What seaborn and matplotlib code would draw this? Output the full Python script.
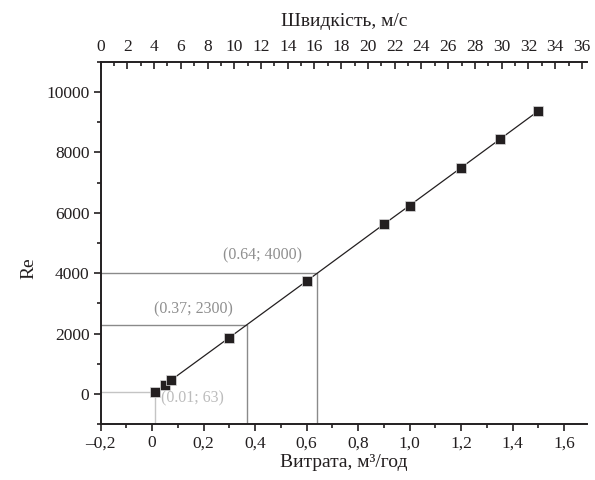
import matplotlib
matplotlib.use("Agg")
import matplotlib.pyplot as plt
import matplotlib.ticker as mticker
import pandas as pd
import seaborn as sns

# Data
flow = [0.01, 0.05, 0.075, 0.30, 0.60, 0.90, 1.00, 1.20, 1.35, 1.50]
re_num = [63, 310, 470, 1870, 3740, 5620, 6240, 7490, 8430, 9370]

# marked points (flow, Re) and their labels
marks_q = [0.64, 0.37, 0.01]
marks_re = [4000, 2300, 63]
mark_text = ["(0.64; 4000)", "(0.37; 2300)", "(0.01; 63)"]
mark_color = ["#8a8a8a", "#8a8a8a", "#c4c4c4"]
text_color = ["#8f8f8f", "#8f8f8f", "#bcbcbc"]

df = pd.DataFrame({"Q": flow, "Re": re_num})

sns.set_theme(style="ticks")
plt.rcParams["font.family"] = ["Liberation Serif", "DejaVu Serif"]
ink = "#231f20"

fig = plt.figure(figsize=(5.95, 4.8), dpi=100)
ax = fig.add_axes([0.169, 0.116, 0.818, 0.7555])

xmin, ymin = -0.2, -1000
# reference lines
for q, r, c in zip(marks_q, marks_re, mark_color):
    ax.plot([xmin, q], [r, r], color=c, lw=1.0, zorder=1)
    ax.plot([q, q], [ymin, r], color=c, lw=1.0, zorder=1)

# fitted line through points (starting at third point)
sns.lineplot(data=df.iloc[2:], x="Q", y="Re", color=ink, lw=0.9, ax=ax,
             zorder=2, sort=False)
sns.scatterplot(data=df, x="Q", y="Re", marker="s", s=48, color=ink,
                edgecolor="#dddddd", linewidth=0.5, ax=ax, zorder=3)

ax.text(0.43, 4580, mark_text[0], color=text_color[0], fontsize=11.5,
        ha="center", va="center")
ax.text(0.162, 2810, mark_text[1], color=text_color[1], fontsize=11.5,
        ha="center", va="center")
ax.text(0.036, -130, mark_text[2], color=text_color[2], fontsize=11.5,
        ha="left", va="center")

ax.set_xlim(xmin, 1.69)
ax.set_ylim(ymin, 11000)
ax.xaxis.set_major_locator(mticker.MultipleLocator(0.2))
ax.xaxis.set_minor_locator(mticker.MultipleLocator(0.1))
ax.yaxis.set_major_locator(mticker.FixedLocator([0, 2000, 4000, 6000, 8000, 10000]))
ax.yaxis.set_minor_locator(mticker.MultipleLocator(1000))


def comma_fmt(v, pos):
    if abs(v) < 1e-9:
        return "0"
    s = f"{abs(v):.1f}".replace(".", ",")
    return ("\u2013" + s) if v < 0 else s


ax.xaxis.set_major_formatter(mticker.FuncFormatter(comma_fmt))
ax.yaxis.set_major_formatter(mticker.FuncFormatter(lambda v, p: f"{int(v)}"))

ax.tick_params(axis="both", which="major", direction="out", length=5,
               width=1.2, color=ink, labelcolor=ink, labelsize=12.5, pad=3)
ax.tick_params(axis="both", which="minor", direction="out", length=3,
               width=1.2, color=ink)
for side in ["left", "bottom"]:
    ax.spines[side].set_linewidth(1.4)
    ax.spines[side].set_color(ink)
ax.spines["right"].set_visible(False)
ax.spines["top"].set_visible(False)

ax.set_xlabel("Витрата, м³/год", fontsize=14, color=ink, labelpad=2)
ax.set_ylabel("Re", fontsize=14, color=ink)
ax.yaxis.set_label_coords(-0.13, 0.43)

# top axis: velocity
ax2 = ax.twiny()
ax2.set_xlim(0, 36.4)
ax2.xaxis.set_major_locator(mticker.MultipleLocator(2))
ax2.xaxis.set_minor_locator(mticker.MultipleLocator(1))
ax2.xaxis.set_major_formatter(mticker.FuncFormatter(lambda v, p: f"{int(round(v))}"))
ax2.tick_params(axis="x", which="major", direction="in", length=5, width=1.2,
                color=ink, labelcolor=ink, labelsize=12.5, pad=5)
ax2.tick_params(axis="x", which="minor", direction="in", length=3, width=1.2,
                color=ink)
for side in ["left", "right", "bottom"]:
    ax2.spines[side].set_visible(False)
ax2.spines["top"].set_linewidth(1.4)
ax2.spines["top"].set_color(ink)
ax2.set_xlabel("Швидкість, м/с", fontsize=14, color=ink, labelpad=9)

fig.savefig("out.png", dpi=100)
